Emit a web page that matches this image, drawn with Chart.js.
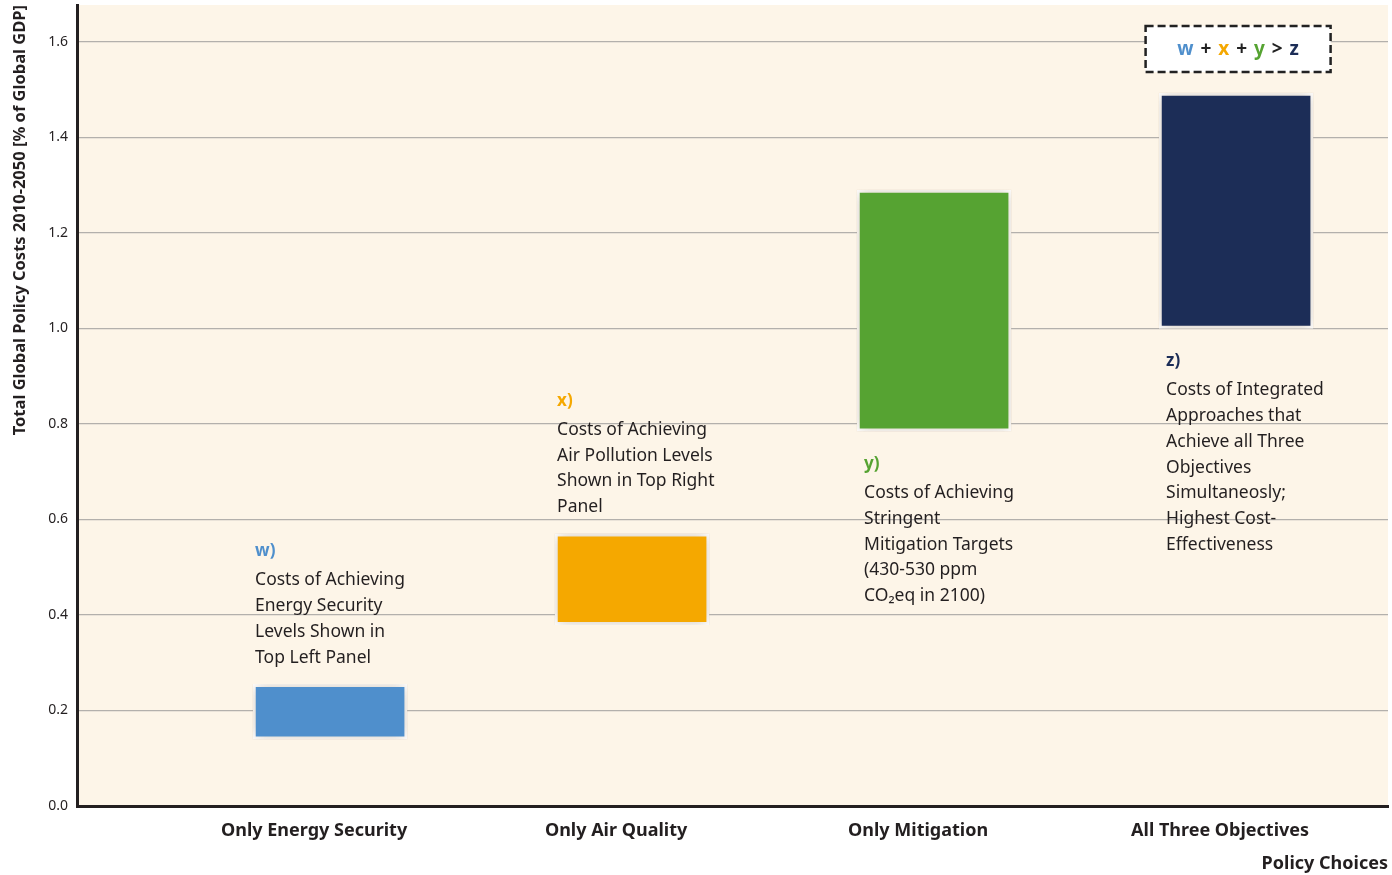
<!DOCTYPE html>
<html>
<head>
<meta charset="utf-8">
<script src="https://cdn.jsdelivr.net/npm/chart.js@4/dist/chart.umd.min.js"></script>
<style>
  html, body { margin: 0; padding: 0; background: #ffffff; }
  #wrap { width: 1392px; height: 875px; }
</style>
</head>
<body>
<div id="wrap"><canvas id="myChart" width="1392" height="875"></canvas></div>
<script>
// data
const categories = ['Only Energy Security', 'Only Air Quality', 'Only Mitigation', 'All Three Objectives'];
const costLow  = [0.14, 0.38, 0.785, 1.0];
const costHigh = [0.255, 0.57, 1.29, 1.493];
const barColors = ['#4f8fcc', '#f5a800', '#56a332', '#1c2d57'];
const yTicks = [0, 0.2, 0.4, 0.6, 0.8, 1.0, 1.2, 1.4, 1.6];

const noteTags = ['w)', 'x)', 'y)', 'z)'];
const noteLines = [
    ['Costs of Achieving', 'Energy Security', 'Levels Shown in', 'Top Left Panel'],
    ['Costs of Achieving', 'Air Pollution Levels', 'Shown in Top Right', 'Panel'],
    ['Costs of Achieving', 'Stringent', 'Mitigation Targets', '(430-530 ppm', 'CO\u2082eq in 2100)'],
    ['Costs of Integrated', 'Approaches that', 'Achieve all Three', 'Objectives', 'Simultaneosly;', 'Highest Cost-', 'Effectiveness']
];
const noteAbove = [true, true, false, false];
const boxParts = ['w', ' + ', 'x', ' + ', 'y', ' > ', 'z'];
const boxColors = [barColors[0], '#222', barColors[1], '#222', barColors[2], '#222', barColors[3]];

const FONT = "'Noto Sans', 'Open Sans', sans-serif";
const INK = '#231f20';

// cream plot background
const plotBg = {
    id: 'plotBg',
    beforeDraw(chart) {
        const a = chart.chartArea, ctx = chart.ctx;
        ctx.save();
        ctx.fillStyle = '#fdf5e8';
        ctx.fillRect(a.left, a.top, a.right - a.left, a.bottom - a.top);
        ctx.restore();
    }
};

// soft halo round the bars
const barShadow = {
    id: 'barShadow',
    beforeDatasetsDraw(chart) {
        const ctx = chart.ctx;
        ctx.save();
        ctx.shadowColor = 'rgba(120, 90, 50, 0.35)';
        ctx.shadowBlur = 12;
    },
    afterDatasetsDraw(chart) {
        chart.ctx.restore();
    }
};

// w) x) y) z) notes and the dashed box
const notes = {
    id: 'notes',
    afterDraw(chart) {
        const ctx = chart.ctx;
        const bars = chart.getDatasetMeta(0).data;
        const lh = 25.7;
        ctx.save();
        ctx.textBaseline = 'middle';
        ctx.textAlign = 'left';
        bars.forEach((bar, i) => {
            const top = Math.min(bar.y, bar.base);
            const bottom = Math.max(bar.y, bar.base);
            const lines = noteLines[i];
            let tagY, left;
            if (noteAbove[i]) {
                tagY = top - 30 - lines.length * lh;
                left = bar.x - bar.width / 2 + 2;
            } else {
                tagY = bottom + 33;
                left = bar.x - bar.width / 2 + 7;
            }
            ctx.font = 'bold 17px ' + FONT;
            ctx.fillStyle = barColors[i];
            ctx.fillText(noteTags[i], left, tagY);
            ctx.font = '17.5px ' + FONT;
            ctx.fillStyle = INK;
            lines.forEach((t, k) => {
                ctx.fillText(t, left, tagY + 29 + k * lh);
            });
        });

        // dashed box above the last bar
        const zb = bars[3];
        const cx = zb.x + 2, cy = Math.min(zb.y, zb.base) - 44;
        const bw = 185, bh = 46;
        ctx.fillStyle = '#ffffff';
        ctx.fillRect(cx - bw / 2, cy - bh / 2, bw, bh);
        ctx.setLineDash([8, 4]);
        ctx.lineWidth = 2.5;
        ctx.strokeStyle = '#222';
        ctx.strokeRect(cx - bw / 2, cy - bh / 2, bw, bh);
        ctx.setLineDash([]);
        ctx.font = 'bold 19px ' + FONT;
        const gap = 2;
        const total = boxParts.reduce((s, p) => s + ctx.measureText(p).width + gap, -gap);
        let x = cx - total / 2;
        boxParts.forEach((p, k) => {
            ctx.fillStyle = boxColors[k];
            ctx.fillText(p, x, cy);
            x += ctx.measureText(p).width + gap;
        });
        ctx.restore();
    }
};

const canvas = document.getElementById('myChart');

new Chart(canvas, {
    type: 'bar',
    data: {
        datasets: [{
            data: categories.map((c, i) => ({ x: i, y: [costLow[i], costHigh[i]] })),
            backgroundColor: barColors,
            borderColor: '#ffffff',
            borderWidth: 3,
            borderSkipped: false,
            barThickness: 154
        }]
    },
    options: {
        responsive: false,
        animation: false,
        layout: { padding: { left: 0, right: 4, top: 5, bottom: 0 } },
        plugins: {
            legend: { display: false },
            tooltip: { enabled: false }
        },
        scales: {
            x: {
                type: 'linear',
                offset: false,
                min: -0.838,
                max: 3.503,
                afterBuildTicks: scale => { scale.ticks = categories.map((c, i) => ({ value: i })); },
                afterFit: scale => { scale.height = 69; scale.paddingLeft = 0; scale.paddingRight = 0; },
                grid: { display: false, drawTicks: false },
                border: { color: INK, width: 3 },
                ticks: {
                    autoSkip: false,
                    maxRotation: 0,
                    padding: 14,
                    labelOffset: -16,
                    color: INK,
                    font: { family: FONT, size: 18, weight: 'bold' },
                    callback: v => categories[v]
                },
                title: {
                    display: true,
                    text: 'Policy Choices',
                    align: 'end',
                    color: INK,
                    padding: { top: 0, bottom: 0 },
                    font: { family: FONT, size: 18, weight: 'bold' }
                }
            },
            y: {
                min: 0,
                max: 1.6775,
                afterBuildTicks: scale => { scale.ticks = yTicks.map(v => ({ value: v })); },
                afterFit: scale => { scale.width = 77; scale.paddingTop = 0; scale.paddingBottom = 0; },
                grid: { color: '#b3b0ac', lineWidth: 1.2, drawTicks: false },
                border: { color: INK, width: 3 },
                ticks: {
                    padding: 9,
                    color: INK,
                    font: { family: FONT, size: 14 },
                    callback: v => v.toFixed(1)
                },
                title: {
                    display: true,
                    text: 'Total Global Policy Costs 2010-2050 [% of Global GDP]',
                    align: 'end',
                    color: INK,
                    padding: { top: 10, bottom: 0 },
                    font: { family: FONT, size: 16.5, weight: 'bold' }
                }
            }
        }
    },
    plugins: [plotBg, barShadow, notes]
});
</script>
</body>
</html>
